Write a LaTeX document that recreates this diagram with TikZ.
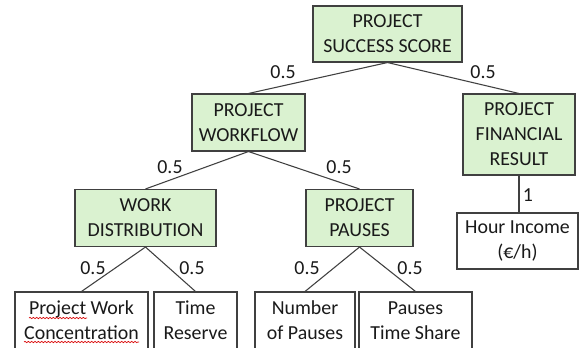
\documentclass[tikz,border=0pt]{standalone}
\usepackage{fontspec}
\setmainfont{Carlito}
\usetikzlibrary{decorations.pathmorphing}
\definecolor{boxgreen}{HTML}{DAF2D0}
\definecolor{edgegray}{HTML}{404040}
\definecolor{txt}{HTML}{1A1A1A}
\begin{document}
\begin{tikzpicture}[x=0.75pt,y=-0.75pt,
  every node/.style={font=\fontsize{14.9}{18.75}\selectfont, text=txt},
  box/.style={draw=edgegray, line width=0.8pt, align=center, inner sep=0pt},
  gbox/.style={box, fill=boxgreen},
  link/.style={draw=edgegray, line width=0.8pt},
  wt/.style={inner sep=0pt},
  squig/.style={draw=red!85!black, line width=0.5pt, decorate, decoration={snake, amplitude=0.5pt, segment length=2.5pt}}]
\useasboundingbox (0,0) rectangle (580,347);
\clip (0,0) rectangle (580,347);
\fill[white] (0,0) rectangle (580,347);
% nodes
\node[gbox, minimum width=149*0.75pt, minimum height=56*0.75pt] (root) at (387.5,34) {PROJECT\\SUCCESS SCORE};
\node[gbox, minimum width=113*0.75pt, minimum height=57*0.75pt] (wf) at (248.5,122.5) {PROJECT\\WORKFLOW};
\node[gbox, minimum width=112*0.75pt, minimum height=81*0.75pt] (fin) at (519,134.5) {PROJECT\\FINANCIAL\\RESULT};
\node[gbox, minimum width=141*0.75pt, minimum height=57*0.75pt] (wd) at (145.5,218) {WORK\\DISTRIBUTION};
\node[gbox, minimum width=107*0.75pt, minimum height=57*0.75pt] (pp) at (359.5,218) {PROJECT\\PAUSES};
\node[box, fill=white, minimum width=121*0.75pt, minimum height=56*0.75pt] (hi) at (517.5,241) {Hour Income\\(€/h)};
\node[box, fill=white, minimum width=133*0.75pt, minimum height=57*0.75pt] (pwc) at (81.5,320.5) {Project Work\\Concentration};
\node[box, fill=white, minimum width=83*0.75pt, minimum height=57*0.75pt] (tr) at (195.5,320.5) {Time\\Reserve};
\node[box, fill=white, minimum width=100*0.75pt, minimum height=57*0.75pt] (np) at (305,320.5) {Number\\of Pauses};
\node[box, fill=white, minimum width=113*0.75pt, minimum height=57*0.75pt] (pts) at (415.5,320.5) {Pauses\\Time Share};
% spell-check squiggles
\coordinate (s1a) at (29,318); \coordinate (s1b) at (87,318);
\coordinate (s2a) at (24,342); \coordinate (s2b) at (139,342);
\path[squig] (s1a) -- (s1b);
\path[squig] (s2a) -- (s2b);
% connectors
\draw[link] (root.south) -- (wf.north);
\draw[link] (root.south) -- (fin.north);
\draw[link] (wf.south) -- (wd.north);
\draw[link] (wf.south) -- (pp.north);
\draw[link] (fin.south) -- (fin.south |- hi.north);
\draw[link] (wd.south) -- (pwc.north);
\draw[link] (wd.south) -- (tr.north);
\draw[link] (pp.south) -- (np.north);
\draw[link] (pp.south) -- (pts.north);
% weights
\node[wt] (w1) at (283,72) {0.5};
\node[wt] (w2) at (483,72) {0.5};
\node[wt] (w3) at (170,167) {0.5};
\node[wt] (w4) at (339,167) {0.5};
\node[wt] (w5) at (528,195) {1};
\node[wt] (w6) at (93,268) {0.5};
\node[wt] (w7) at (192,268) {0.5};
\node[wt] (w8) at (307,268) {0.5};
\node[wt] (w9) at (410,268) {0.5};
\end{tikzpicture}
\end{document}
